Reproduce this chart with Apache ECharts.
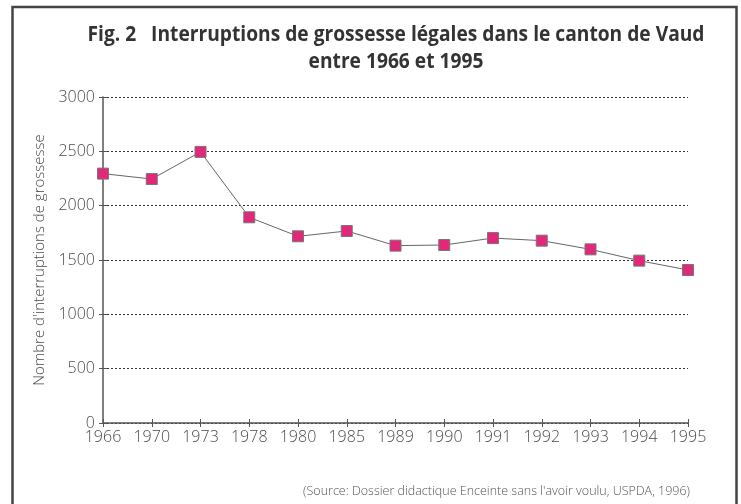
<!DOCTYPE html>
<html><head><meta charset="utf-8">
<script src="https://cdn.jsdelivr.net/npm/echarts@6/dist/echarts.min.js"></script>
<style>html,body{margin:0;padding:0;background:#fff}#c{width:741px;height:504px}</style>
</head><body><div id="c"></div>
<script>
const years = ['1966','1970','1973','1978','1980','1985','1989','1990','1991','1992','1993','1994','1995'];
const interruptions = [2295, 2245, 2495, 1893, 1718, 1767, 1632, 1638, 1702, 1678, 1598, 1494, 1408];
const yTicks = [0, 500, 1000, 1500, 2000, 2500, 3000];
const titleLine1 = 'Fig. 2   Interruptions de grossesse légales dans le canton de Vaud';
const titleLine2 = 'entre 1966 et 1995';
const yName = "Nombre d'interruptions de grossesse";
const source = "(Source: Dossier didactique Enceinte sans l'avoir voulu, USPDA, 1996)";

const titleFont = 'bold 22px "Open Sans"';
const cv = document.createElement('canvas').getContext('2d');
cv.font = titleFont;
const sx = 617 / cv.measureText(titleLine1).width;

const chart = echarts.init(document.getElementById('c'), null, {renderer:'canvas'});
const lab = {color:'#4a4a4a', fontFamily:'Open Sans', fontWeight:300, fontSize:16};
const gray = '#555';
chart.setOption({
  animation:false,
  backgroundColor:'#fff',
  graphic:[
    {type:'rect', shape:{x:12.5, y:7, width:724, height:510}, style:{fill:'none', stroke:'#444', lineWidth:2.5}, silent:true},
    {type:'text', x:396, y:35, scaleX:sx, style:{text:titleLine1, fill:'#333', font:titleFont, textAlign:'center', textVerticalAlign:'middle'}},
    {type:'text', x:396, y:62, scaleX:sx, style:{text:titleLine2, fill:'#333', font:titleFont, textAlign:'center', textVerticalAlign:'middle'}},
    {type:'text', x:690, y:491, style:{text:source, fill:'#555', font:'300 12.5px "Open Sans"', textAlign:'right', textVerticalAlign:'middle'}}
  ],
  grid:{left:103, top:97, right:53, bottom:81},
  xAxis:[
    {type:'category', data:years, boundaryGap:false,
     axisLine:{lineStyle:{color:gray, width:1.5}},
     axisTick:{show:true, length:4, lineStyle:{color:gray}},
     axisLabel:Object.assign({margin:6, interval:0}, lab),
     splitLine:{show:false}},
    {type:'category', data:years, boundaryGap:false, position:'bottom',
     axisLine:{show:false}, axisTick:{show:true, inside:true, length:4, lineStyle:{color:gray}},
     axisLabel:{show:false}, splitLine:{show:false}}
  ],
  yAxis:[
    {type:'value', min:yTicks[0], max:yTicks[yTicks.length-1], interval:500,
     name:yName, nameLocation:'middle', nameGap:43, nameTextStyle:{color:'#4a4a4a', fontFamily:'Open Sans', fontWeight:300, fontSize:15},
     axisLine:{show:true, lineStyle:{color:gray, width:1.5}},
     axisTick:{show:true, length:4, lineStyle:{color:gray}},
     axisLabel:Object.assign({margin:8, formatter:v => String(v)}, lab),
     splitLine:{show:true, lineStyle:{color:'#333', type:[2,2], width:1}}},
    {type:'value', min:yTicks[0], max:yTicks[yTicks.length-1], interval:500, position:'left',
     axisLine:{show:false}, axisTick:{show:true, inside:true, length:4, lineStyle:{color:gray}},
     axisLabel:{show:false}, splitLine:{show:false}}
  ],
  series:[{
    type:'line', data:interruptions, xAxisIndex:0, yAxisIndex:0,
    symbol:'rect', symbolSize:11,
    lineStyle:{color:'#666', width:1},
    itemStyle:{color:'#e2287a', borderColor:'#777', borderWidth:1},
    z:5
  }]
});
</script></body></html>
